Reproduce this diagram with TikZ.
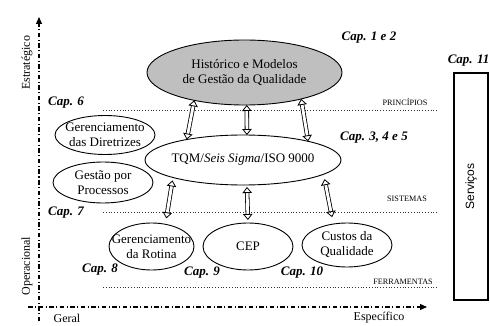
\documentclass[tikz,border=0pt]{standalone}
\usepackage{fontspec}
\setmainfont{Liberation Serif}
\newfontfamily\arialf{Liberation Sans}
\usetikzlibrary{arrows.meta,shapes.geometric}
\begin{document}
\begin{tikzpicture}[x=1pt,y=-1pt,
  txt/.style={font=\fontsize{13}{15}\selectfont, align=center},
  ell/.style={ellipse, draw, line width=0.9pt, inner sep=-40pt, outer sep=0pt, txt},
  chaplbl/.style={font=\fontsize{13}{15}\selectfont\bfseries\itshape, inner sep=0pt},
  lvl/.style={font=\fontsize{8.2}{9}\selectfont, inner sep=0pt},
  axlbl/.style={font=\fontsize{12}{14}\selectfont, inner sep=0pt},
  levelline/.style={dotted, line width=0.8pt, black!80},
  axisline/.style={line width=1.1pt, dash pattern=on 4.5pt off 2.5pt on 1pt off 2.5pt, -{Triangle[length=7pt,width=6pt]}},
  hollow/.style={double=white, double distance=2.8pt, line width=0.8pt, {Triangle[open,length=6pt,width=9.5pt]}-{Triangle[open,length=6pt,width=9.5pt]}},
]
\useasboundingbox (0,0) rectangle (490,326);

% axes
\coordinate (vb) at (39,321);
\coordinate (vt) at (39,17);
\coordinate (hl) at (28,307);
\coordinate (hr) at (427,307);
\draw[axisline] (vb) -- (vt);
\draw[axisline] (hl) -- (hr);
\node[axlbl, rotate=90] (estr) at (27,63) {Estratégico};
\node[axlbl, rotate=90] (oper) at (27,266) {Operacional};
\node[axlbl] (geral) at (67,318) {Geral};
\node[axlbl] (espec) at (379,318) {Específico};

% level lines
\coordinate (l1a) at (103,110); \coordinate (l1b) at (437,110);
\coordinate (l2a) at (103,212); \coordinate (l2b) at (437,212);
\coordinate (l3a) at (103,287); \coordinate (l3b) at (437,287);
\draw[levelline] (l1a) -- (l1b);
\draw[levelline] (l2a) -- (l2b);
\draw[levelline] (l3a) -- (l3b);
\node[lvl] (princ) at (405,102) {PRINCÍPIOS};
\node[lvl] (sist) at (407,199) {SISTEMAS};
\node[lvl] (ferr) at (403,282) {FERRAMENTAS};

% ellipses
\node[ell, fill=black!25, minimum width=195pt, minimum height=65pt] (hist) at (244.5,72.5) {Histórico e Modelos\\de Gestão da Qualidade};
\node[ell, minimum width=196pt, minimum height=50pt] (tqm) at (243,160) {TQM/\textit{Seis Sigma}/ISO 9000};
\node[ell, minimum width=100pt, minimum height=39pt] (dir) at (105,135) {Gerenciamento\\das Diretrizes};
\node[ell, minimum width=100pt, minimum height=41pt] (proc) at (103,182.5) {Gestão por\\Processos};
\node[ell, minimum width=85pt, minimum height=47pt] (rot) at (151.5,246.5) {Gerenciamento\\da Rotina};
\node[ell, minimum width=90pt, minimum height=47pt] (cep) at (248,246.5) {CEP};
\node[ell, minimum width=90pt, minimum height=44pt] (cus) at (347,245) {Custos da\\Qualidade};

% services
\node[draw, line width=1.1pt, rotate=90, minimum width=227pt, minimum height=34pt, inner sep=0pt,
  font=\arialf\fontsize{12}{14}\selectfont] (serv) at (471,186.5) {Serviços};

% chapter labels
\node[chaplbl] (c12) at (369,38) {Cap. 1 e 2};
\node[chaplbl, anchor=east] (c11) at (489.5,61) {Cap. 11};
\node[chaplbl] (c6) at (66,103) {Cap. 6};
\node[chaplbl] (c345) at (374,138) {Cap. 3, 4 e 5};
\node[chaplbl] (c7) at (66,213) {Cap. 7};
\node[chaplbl] (c8) at (100,270) {Cap. 8};
\node[chaplbl] (c9) at (202,273) {Cap. 9};
\node[chaplbl] (c10) at (302,273) {Cap. 10};

% hollow double arrows
\draw[hollow] (hist.209.5) -- (tqm.160.8);
\draw[hollow] (hist.-86) -- (tqm.81);
\draw[hollow] (hist.-25.7) -- (tqm.16.5);
\draw[hollow, shorten <=3pt, shorten >=6pt] (tqm.194.8) -- (rot.58.7);
\draw[hollow, shorten <=2pt, shorten >=3pt] (tqm.-81) -- (cep.north);
\draw[hollow, shorten <=5pt, shorten >=7pt] (tqm.-10.6) -- (cus.123.8);
\end{tikzpicture}
\end{document}
